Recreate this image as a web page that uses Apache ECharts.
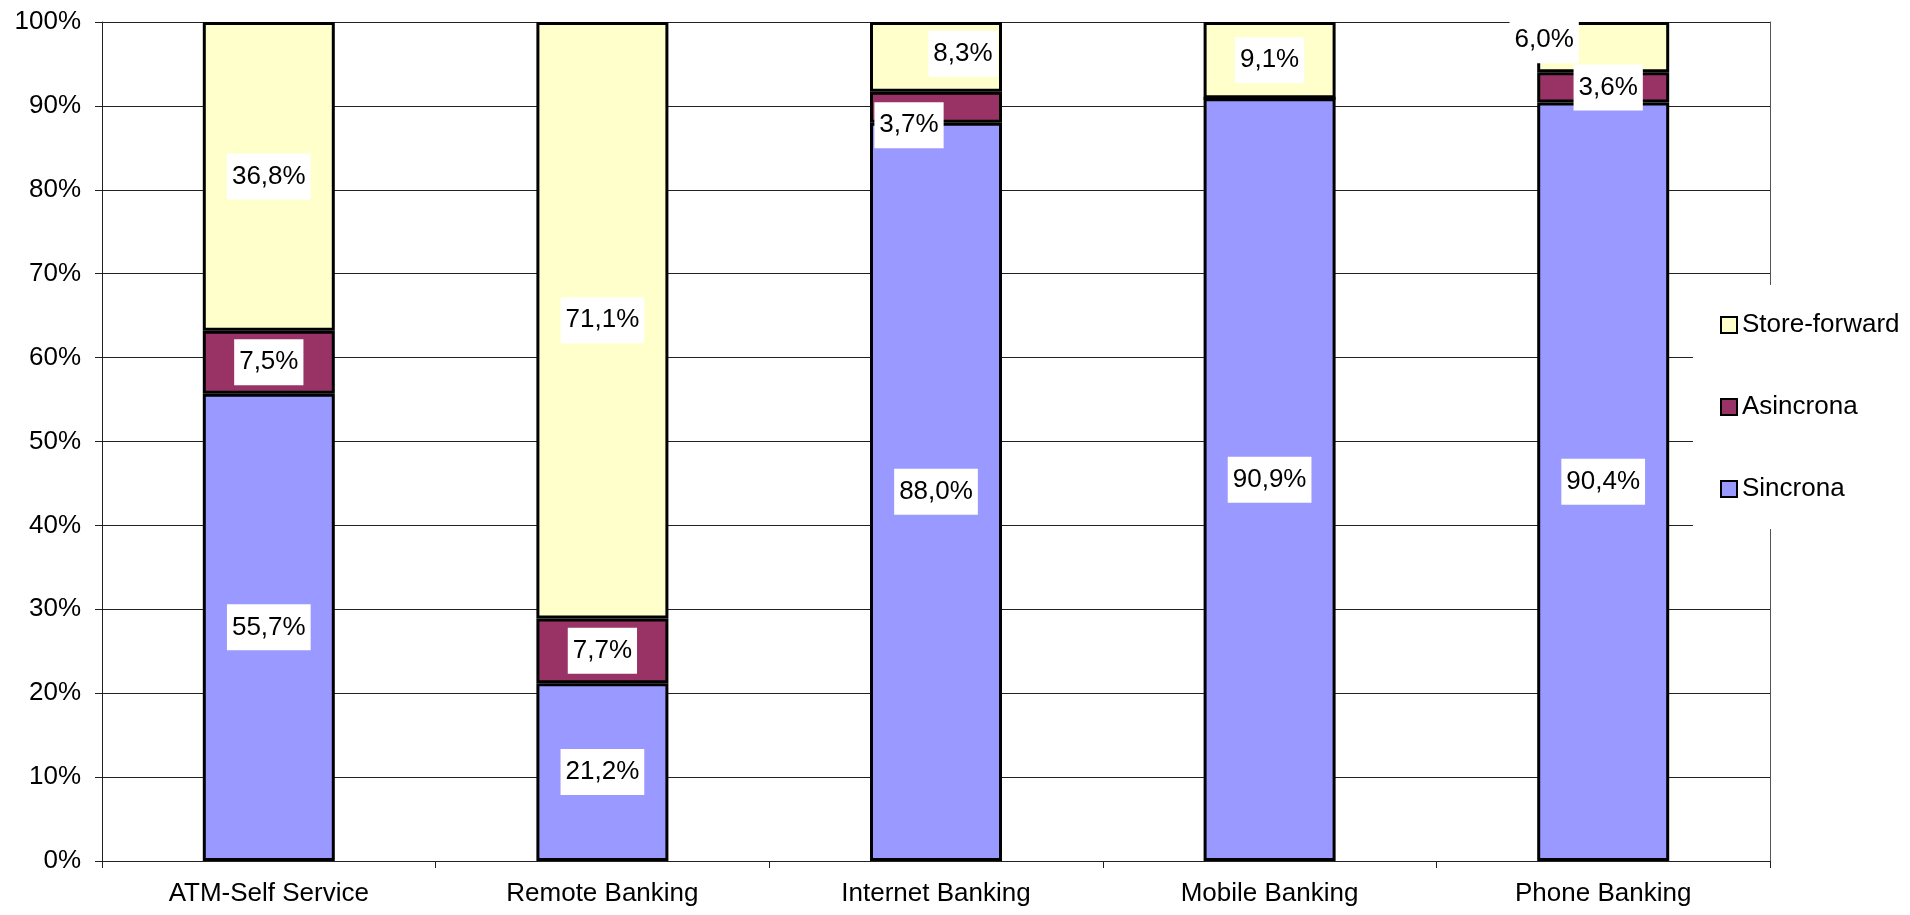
<!DOCTYPE html>
<html>
<head>
<meta charset="utf-8">
<title>Modalità di interazione per canale</title>
<script src="https://cdn.jsdelivr.net/npm/echarts@6/dist/echarts.min.js"></script>
<style>
  html, body { margin: 0; padding: 0; background: #fff; }
  #chart { width: 1910px; height: 915px; }
</style>
</head>
<body>
<div id="chart"></div>
<script>
// Channels and the share of each interaction mode (percent)
const categories = ['ATM-Self Service', 'Remote Banking', 'Internet Banking', 'Mobile Banking', 'Phone Banking'];
const sincrona = [55.7, 21.2, 88.0, 90.9, 90.4];
const asincrona = [7.5, 7.7, 3.7, 0, 3.6];
const storeForward = [36.8, 71.1, 8.3, 9.1, 6.0];
const yTicks = [0, 10, 20, 30, 40, 50, 60, 70, 80, 90, 100];

// Small nudges for labels that would collide inside thin segments
const labelNudge = {
  'Asincrona': { 2: [-27, 18], 4: [5, 0] },
  'Store-forward': { 2: [27, -3], 4: [-59, -7] }
};

const FONT = "'Liberation Sans', Arial, sans-serif";
const FS = 26;

function buildData(name, values) {
  return values.map((v, i) => {
    const item = { value: v };
    if (v === 0) {
      item.label = { show: false };
    } else if (labelNudge[name] && labelNudge[name][i]) {
      item.label = { offset: labelNudge[name][i] };
    }
    return item;
  });
}

function fmt(v) {
  return v.toFixed(1).replace('.', ',') + '%';
}

function makeSeries(name, values, color) {
  return {
    name: name,
    type: 'bar',
    stack: 'total',
    barWidth: 132,
    data: buildData(name, values),
    itemStyle: { color: color, borderColor: '#000', borderWidth: 3 },
    label: {
      show: true,
      position: 'inside',
      formatter: p => fmt(p.value),
      color: '#000',
      fontFamily: FONT,
      fontSize: FS,
      lineHeight: 28,
      backgroundColor: '#fff',
      padding: [9, 5]
    },
    emphasis: { disabled: true }
  };
}

const chart = echarts.init(document.getElementById('chart'), null, { renderer: 'canvas' });

chart.setOption({
  animation: false,
  backgroundColor: '#fff',
  textStyle: { fontFamily: FONT },
  grid: { left: 102, right: 140, top: 22, bottom: 54, containLabel: false },
  legend: {
    orient: 'vertical',
    left: 1693,
    top: 285,
    width: 217,
    padding: [27, 6, 27, 27],
    backgroundColor: '#fff',
    itemWidth: 16,
    itemHeight: 16,
    itemGap: 56,
    icon: 'rect',
    data: ['Store-forward', 'Asincrona', 'Sincrona'],
    itemStyle: { borderColor: '#000', borderWidth: 2 },
    textStyle: { fontFamily: FONT, fontSize: FS, lineHeight: 26, color: '#000' },
    selectedMode: false
  },
  xAxis: {
    type: 'category',
    data: categories,
    boundaryGap: true,
    axisLine: { show: true, lineStyle: { color: '#222', width: 1 } },
    axisTick: { show: true, alignWithLabel: false, length: 7, lineStyle: { color: '#222' } },
    axisLabel: { color: '#000', fontFamily: FONT, fontSize: FS, margin: 20 },
    splitLine: { show: false }
  },
  yAxis: [
    {
      type: 'value',
      min: yTicks[0],
      max: yTicks[yTicks.length - 1],
      interval: yTicks[1] - yTicks[0],
      axisLine: { show: true, lineStyle: { color: '#222', width: 1 } },
      axisTick: { show: true, length: 7, lineStyle: { color: '#222' } },
      axisLabel: { color: '#000', fontFamily: FONT, fontSize: FS, margin: 21, formatter: '{value}%' },
      splitLine: { show: true, lineStyle: { color: '#222', width: 1 } }
    },
    {
      type: 'value',
      position: 'right',
      min: yTicks[0],
      max: yTicks[yTicks.length - 1],
      interval: yTicks[1] - yTicks[0],
      axisLine: { show: true, lineStyle: { color: '#555', width: 1 } },
      axisTick: { show: false },
      axisLabel: { show: false },
      splitLine: { show: false }
    }
  ],
  series: [
    makeSeries('Sincrona', sincrona, '#9999FF'),
    makeSeries('Asincrona', asincrona, '#993366'),
    makeSeries('Store-forward', storeForward, '#FFFFCC')
  ]
});
</script>
</body>
</html>
